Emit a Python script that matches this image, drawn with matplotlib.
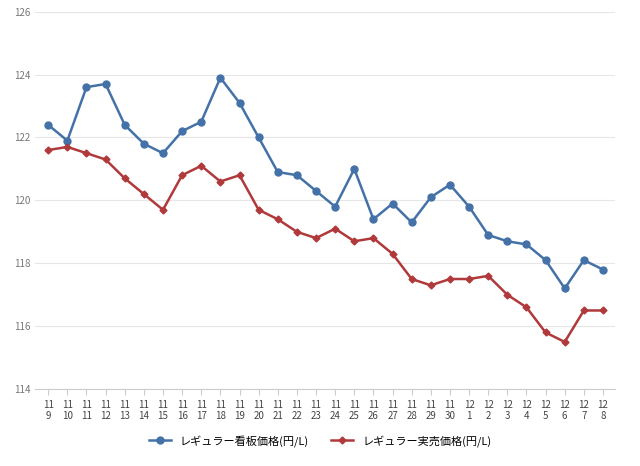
import matplotlib
matplotlib.use("Agg")
import matplotlib.pyplot as plt

months = ["11"]*22 + ["12"]*8
days = [str(d) for d in range(9, 31)] + [str(d) for d in range(1, 9)]
labels = [f"{m}\n{d}" for m, d in zip(months, days)]
kanban = [122.4, 121.9, 123.6, 123.7, 122.4, 121.8, 121.5, 122.2, 122.5, 123.9,
          123.1, 122.0, 120.9, 120.8, 120.3, 119.8, 121.0, 119.4, 119.9, 119.3,
          120.1, 120.5, 119.8, 118.9, 118.7, 118.6, 118.1, 117.2, 118.1, 117.8]
jitsubai = [121.6, 121.7, 121.5, 121.3, 120.7, 120.2, 119.7, 120.8, 121.1, 120.6,
            120.8, 119.7, 119.4, 119.0, 118.8, 119.1, 118.7, 118.8, 118.3, 117.5,
            117.3, 117.5, 117.5, 117.6, 117.0, 116.6, 115.8, 115.5, 116.5, 116.5]
names = ["レギュラー看板価格(円/L)", "レギュラー実売価格(円/L)"]

plt.rcParams["font.family"] = "Noto Sans CJK JP"
fig = plt.figure(figsize=(6.4, 4.66), dpi=100)
ax = fig.add_axes([0.055, 0.165, 0.906, 0.81])
x = list(range(len(labels)))
ax.plot(x, kanban, color="#4472a8", marker="o", markersize=5, lw=1.8, label=names[0])
ax.plot(x, jitsubai, color="#b0393b", marker="D", markersize=3.5, lw=1.8, label=names[1])
ax.set_ylim(114, 126)
ax.set_yticks(range(114, 127, 2))
ax.set_xlim(-0.68, len(labels) - 0.37)
ax.set_xticks(x)
ax.set_xticklabels(labels, fontsize=7, color="#444444")
ax.tick_params(axis="y", labelsize=7, colors="#777777", length=0)
ax.tick_params(axis="x", length=4, color="#cccccc")
ax.grid(axis="y", color="#e6e6e6", lw=0.8)
for s in ["top", "right", "left"]:
    ax.spines[s].set_visible(False)
ax.spines["bottom"].set_color("#cccccc")
fig.legend(loc="lower center", bbox_to_anchor=(0.5, 0.02), ncol=2, frameon=False, fontsize=8)
fig.savefig("out.png")
